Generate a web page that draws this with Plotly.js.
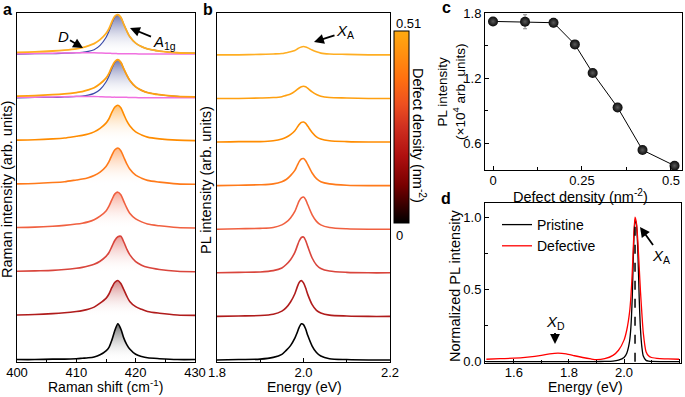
<!DOCTYPE html>
<html><head><meta charset="utf-8">
<script src="https://cdn.plot.ly/plotly-3.0.1.min.js"></script>
<style>html,body{margin:0;padding:0;background:#fff}#chart{width:685px;height:397px}</style>
</head><body><div id="chart"></div>
<script>
// ---------------- DATA ----------------
const densities = [0, 0.09, 0.17, 0.23, 0.28, 0.35, 0.42, 0.51];      // nm^-2
const plIntensity = [1.727, 1.724, 1.715, 1.514, 1.249, 0.93, 0.535, 0.39]; // x10^4 arb. units
const plIntensityErr = [0.03, 0.065, 0.04, 0.03, 0.03, 0.03, 0.02, 0.02];

// Panel a: Raman spectra (arb. units, one stack step = 1)
const ramanShift = [400, 403, 406, 408, 410, 411, 412, 413, 414, 415, 415.5, 416, 416.5, 417, 417.5, 418, 418.5, 419, 420, 421, 422, 424, 427, 430];
const ramanD000 = [0.01,0.01,0.02,0.02,0.03,0.04,0.05,0.07,0.12,0.21,0.29,0.46,0.68,0.83,0.71,0.50,0.35,0.25,0.13,0.08,0.05,0.03,0.01,0.01];
const ramanD009 = [0.03,0.04,0.06,0.08,0.11,0.13,0.16,0.21,0.30,0.41,0.51,0.66,0.78,0.82,0.75,0.61,0.46,0.34,0.22,0.16,0.11,0.07,0.03,0.02];
const ramanD017 = [0.03,0.04,0.05,0.07,0.10,0.12,0.15,0.19,0.26,0.37,0.46,0.60,0.74,0.82,0.83,0.70,0.54,0.41,0.25,0.17,0.12,0.07,0.03,0.02];
const ramanD023 = [0.03,0.04,0.06,0.08,0.11,0.13,0.16,0.21,0.29,0.41,0.52,0.67,0.80,0.84,0.78,0.63,0.48,0.36,0.23,0.16,0.11,0.07,0.03,0.02];
const ramanD028 = [0.03,0.04,0.06,0.08,0.12,0.14,0.17,0.22,0.30,0.43,0.54,0.69,0.81,0.85,0.79,0.64,0.49,0.37,0.23,0.16,0.11,0.07,0.03,0.02];
const ramanD035 = [0.03,0.04,0.06,0.08,0.12,0.14,0.17,0.22,0.30,0.42,0.52,0.67,0.79,0.83,0.77,0.62,0.47,0.36,0.22,0.15,0.10,0.06,0.03,0.02];
const ramanD042 = [0.04,0.05,0.07,0.09,0.12,0.14,0.18,0.23,0.32,0.45,0.56,0.71,0.83,0.87,0.81,0.66,0.52,0.40,0.25,0.17,0.12,0.07,0.03,0.02];
const ramanD051 = [0.04,0.05,0.07,0.09,0.12,0.15,0.19,0.24,0.33,0.47,0.58,0.74,0.87,0.90,0.84,0.68,0.53,0.40,0.25,0.17,0.12,0.07,0.03,0.02];
// fitted components of the two most defective samples
const a1gD042 = [0.00,0.01,0.01,0.02,0.03,0.04,0.06,0.10,0.19,0.36,0.50,0.67,0.81,0.87,0.81,0.66,0.52,0.40,0.25,0.17,0.12,0.07,0.03,0.02];
const a1gD051 = [0.00,0.01,0.01,0.02,0.03,0.04,0.06,0.10,0.20,0.38,0.52,0.70,0.85,0.90,0.84,0.68,0.53,0.40,0.25,0.17,0.12,0.07,0.03,0.02];
const dModeD042 = [0.01,0.015,0.02,0.025,0.03,0.03,0.03,0.03,0.025,0.02,0.02,0.015,0.015,0.01,0.01,0.01,0.01,0.005,0.005,0,0,0,0,0];
const dModeD051 = [0.01,0.015,0.02,0.025,0.03,0.03,0.03,0.03,0.025,0.02,0.02,0.015,0.015,0.01,0.01,0.01,0.01,0.005,0.005,0,0,0,0,0];

// Panel b: PL spectra
const plEnergy = [1.80, 1.85, 1.90, 1.93, 1.95, 1.96, 1.97, 1.98, 1.985, 1.99, 1.995, 2.00, 2.005, 2.01, 2.02, 2.03, 2.04, 2.06, 2.10, 2.15, 2.20];
const plD000 = [0,0.01,0.02,0.06,0.13,0.22,0.33,0.50,0.62,0.75,0.83,0.81,0.71,0.56,0.32,0.17,0.09,0.03,0.01,0,0];
const plD009 = [0,0.01,0.02,0.05,0.12,0.20,0.33,0.52,0.66,0.78,0.82,0.77,0.65,0.50,0.27,0.14,0.08,0.03,0.01,0,0];
const plD017 = [0,0.01,0.02,0.05,0.11,0.19,0.30,0.47,0.60,0.73,0.81,0.82,0.74,0.60,0.34,0.18,0.10,0.04,0.01,0,0];
const plD023 = [0,0.01,0.02,0.04,0.10,0.16,0.26,0.41,0.53,0.65,0.72,0.74,0.68,0.56,0.33,0.18,0.10,0.04,0.01,0,0];
const plD028 = [0,0.01,0.02,0.04,0.09,0.14,0.23,0.35,0.45,0.55,0.61,0.62,0.57,0.48,0.29,0.16,0.09,0.04,0.01,0,0];
const plD035 = [0,0.01,0.01,0.03,0.07,0.11,0.17,0.26,0.33,0.40,0.45,0.46,0.43,0.36,0.22,0.12,0.07,0.03,0.01,0,0];
const plD042 = [0,0,0.01,0.02,0.04,0.07,0.10,0.16,0.20,0.24,0.27,0.28,0.27,0.23,0.15,0.09,0.05,0.02,0.01,0,0];
const plD051 = [0,0,0.01,0.02,0.03,0.05,0.07,0.10,0.13,0.16,0.18,0.19,0.18,0.16,0.11,0.07,0.04,0.02,0.01,0,0];

// Panel d: normalized PL
const normEnergy = [1.50,1.55,1.60,1.65,1.70,1.73,1.76,1.79,1.82,1.85,1.88,1.90,1.93,1.96,1.98,2.00,2.01,2.02,2.025,2.03,2.035,2.04,2.045,2.05,2.055,2.06,2.065,2.07,2.08,2.09,2.10,2.13,2.16,2.20];
const normPristine = [0.002,0.002,0.002,0.002,0.002,0.002,0.002,0.002,0.002,0.002,0.002,0.002,0.003,0.005,0.012,0.03,0.06,0.14,0.24,0.45,0.80,0.98,0.95,0.78,0.45,0.22,0.10,0.04,0.01,0.005,0.003,0.002,0.002,0.002];
const normDefective = [0.018,0.022,0.025,0.033,0.045,0.055,0.060,0.055,0.042,0.030,0.020,0.015,0.022,0.045,0.08,0.15,0.22,0.34,0.45,0.62,0.85,1.0,0.96,0.84,0.66,0.48,0.33,0.20,0.07,0.04,0.03,0.022,0.02,0.018];
const xaPeakEnergy = 2.04;
const xaPeakLevel = 0.96;

const ramanSpectra = [ramanD000, ramanD009, ramanD017, ramanD023, ramanD028, ramanD035, ramanD042, ramanD051];
const plSpectra = [plD000, plD009, plD017, plD023, plD028, plD035, plD042, plD051];
const a1gComponents = {6: a1gD042, 7: a1gD051};
const dComponents = {6: dModeD042, 7: dModeD051};

// ---------------- STYLE ----------------
const W = 685, H = 397;
const dx = p => p / W, dy = p => 1 - p / H;
const FONT = 'Liberation Sans, Arial, Helvetica, sans-serif';
const TITLE = 14.5, TICK = 13;
const specColors = ['#000000', '#b01c1c', '#d9453c', '#f06040', '#ff7a1a', '#ff8c00', '#ffa010', '#ffae22'];
const fillColors = ['rgba(0,0,0,0.6)', 'rgba(176,28,28,0.55)', 'rgba(217,69,60,0.55)', 'rgba(240,96,64,0.55)', 'rgba(255,122,26,0.55)', 'rgba(255,140,0,0.55)', 'rgba(50,60,140,0.7)', 'rgba(50,60,140,0.7)'];
const densityScale = [[0,'#000000'],[0.2,'#7a0000'],[0.35,'#b01010'],[0.5,'#d03020'],[0.62,'#ee5020'],[0.75,'#ff7010'],[0.88,'#ff9010'],[1,'#ffaa10']];

const traces = [];
// Panel a
ramanSpectra.forEach((spec, i) => {
  traces.push({x: [ramanShift[0], ramanShift[ramanShift.length-1]], y: [i, i], xaxis:'x', yaxis:'y',
    mode:'lines', line:{width:0}, hoverinfo:'skip', showlegend:false});
  const comp = a1gComponents[i];
  if (comp) {
    traces.push({x: ramanShift, y: comp.map(v => v + i), xaxis:'x', yaxis:'y', mode:'lines',
      line:{color:'#3a4aa8', width:1.2, shape:'spline', smoothing:0.8}, fill:'tonexty',
      fillgradient:{type:'vertical', colorscale:[[0,'rgba(255,255,255,0)'],[1,fillColors[i]]]},
      hoverinfo:'skip', showlegend:false});
    traces.push({x: ramanShift, y: dComponents[i].map(v => v + i), xaxis:'x', yaxis:'y', mode:'lines',
      line:{color:'#f070e0', width:1.5, shape:'spline', smoothing:0.8}, hoverinfo:'skip', showlegend:false});
    traces.push({x: ramanShift, y: spec.map(v => v + i), xaxis:'x', yaxis:'y', mode:'lines',
      line:{color:specColors[i], width:1.8, shape:'spline', smoothing:0.8}, hoverinfo:'skip', showlegend:false});
  } else {
    traces.push({x: ramanShift, y: spec.map(v => v + i), xaxis:'x', yaxis:'y', mode:'lines',
      line:{color:specColors[i], width:1.6, shape:'spline', smoothing:0.8}, fill:'tonexty',
      fillgradient:{type:'vertical', colorscale:[[0,'rgba(255,255,255,0)'],[1,fillColors[i]]]},
      hoverinfo:'skip', showlegend:false});
  }
});
// Panel b
plSpectra.forEach((spec, i) => {
  traces.push({x: plEnergy, y: spec.map(v => v + i), xaxis:'x2', yaxis:'y2', mode:'lines',
    line:{color:specColors[i], width:1.6, shape:'spline', smoothing:0.8}, hoverinfo:'skip', showlegend:false});
});
// colour bar carrier (points lie outside the visible energy range)
traces.push({x: densities, y: densities, xaxis:'x2', yaxis:'y2', mode:'markers', hoverinfo:'skip', showlegend:false,
  marker:{color: densities, cmin:0, cmax:0.51, colorscale: densityScale, opacity:0, showscale:true,
    colorbar:{x: dx(394), xanchor:'left', y: dy(127), yanchor:'middle', len: 192/H, lenmode:'fraction',
      thickness:15, thicknessmode:'pixels', xpad:0, ypad:0, outlinewidth:1, outlinecolor:'#000',
      showticklabels:false, ticks:''}}});
// Panel c
traces.push({x: densities, y: plIntensity, xaxis:'x3', yaxis:'y3', mode:'lines+markers', showlegend:false,
  line:{color:'#000', width:1},
  marker:{size:10, color:'#0a0a0a', line:{width:0}, gradient:{type:'radial', color:'#5a5a5a'}},
  error_y:{type:'data', array: plIntensityErr, color:'#888', thickness:1, width:2}});
// Panel d
traces.push({x: normEnergy, y: normPristine, xaxis:'x4', yaxis:'y4', mode:'lines', name:'Pristine',
  line:{color:'#000', width:1.3, shape:'spline', smoothing:0.6}});
traces.push({x: normEnergy, y: normDefective, xaxis:'x4', yaxis:'y4', mode:'lines', name:'Defective',
  line:{color:'#ff0000', width:1.3, shape:'spline', smoothing:0.6}});
traces.push({x: [xaPeakEnergy, xaPeakEnergy], y: [0, xaPeakLevel], xaxis:'x4', yaxis:'y4', mode:'lines',
  line:{color:'#000', width:1.5, dash:'dash'}, showlegend:false, hoverinfo:'skip'});

const axBase = {showline:true, mirror:true, linecolor:'#000', linewidth:1, showgrid:false, zeroline:false,
  ticks:'inside', ticklen:4, tickcolor:'#000', tickfont:{size:TICK, color:'#000'}, fixedrange:true};
const xBottom = Object.assign({}, axBase, {ticklabelstandoff:-2});
const yHidden = Object.assign({}, axBase, {showticklabels:false, ticks:''});

const layout = {
  width: W, height: H, margin:{l:0, r:0, t:0, b:0}, paper_bgcolor:'#fff', plot_bgcolor:'#fff',
  font:{family: FONT, size:13, color:'#000'},
  showlegend:true,
  legend:{x: dx(497), y: dy(209), xanchor:'left', yanchor:'top', bgcolor:'rgba(0,0,0,0)', font:{size:14},
    traceorder:'normal', tracegroupgap:0, itemwidth:30},
  xaxis: Object.assign({}, xBottom, {domain:[dx(17), dx(195)], range:[400,430], anchor:'y', tickvals:[400,410,420,430],
    minor:{tickvals:[405,415,425], ticks:'inside', ticklen:3, tickcolor:'#000'}}),
  yaxis: Object.assign({}, yHidden, {domain:[dy(362), dy(13)], range:[-0.046, 7.94], anchor:'x'}),
  xaxis2: Object.assign({}, xBottom, {domain:[dx(217), dx(390)], range:[1.8,2.2], anchor:'y2', tickvals:[1.8,2.0,2.2],
    tickformat:'.1f', minor:{tickvals:[1.9,2.1], ticks:'inside', ticklen:3, tickcolor:'#000'}}),
  yaxis2: Object.assign({}, yHidden, {domain:[dy(362), dy(13)], range:[-0.046, 7.96], anchor:'x2'}),
  xaxis3: Object.assign({}, xBottom, {domain:[dx(485), dx(682)], range:[-0.0225, 0.531], anchor:'y3', tickvals:[0,0.25,0.5],
    ticktext:['0','0.25','0.5'], minor:{tickvals:[0.125,0.375], ticks:'inside', ticklen:3, tickcolor:'#000'}}),
  yaxis3: Object.assign({}, axBase, {domain:[dy(170), dy(13)], range:[0.35, 1.805], anchor:'x3', tickvals:[0.6,1.2,1.8],
    tickformat:'.1f', minor:{tickvals:[0.9,1.5], ticks:'inside', ticklen:3, tickcolor:'#000'}}),
  xaxis4: Object.assign({}, xBottom, {domain:[dx(485), dx(681)], range:[1.495, 2.207], anchor:'y4', tickvals:[1.6,1.8,2.0,2.2],
    ticklabelstandoff:-3, tickformat:'.1f', minor:{tickvals:[1.7,1.9,2.1], ticks:'inside', ticklen:3, tickcolor:'#000'}}),
  yaxis4: Object.assign({}, axBase, {domain:[dy(363), dy(203)], range:[-0.008, 1.097], anchor:'x4', tickvals:[0,0.5,1.0],
    tickformat:'.1f', minor:{tickvals:[0.25,0.75], ticks:'inside', ticklen:3, tickcolor:'#000'}}),
  annotations: []
};

const txt = (text, px, py, opts) => Object.assign({text, x: dx(px), y: dy(py), xref:'paper', yref:'paper',
  showarrow:false, xanchor:'center', yanchor:'middle', font:{size:TITLE, color:'#000'}}, opts || {});
// label with an arrow: head at (hx,hy), label centred at (tx,ty)
const arrowLabel = (text, hx, hy, tx, ty) => ({text, x: dx(hx), y: dy(hy), xref:'paper', yref:'paper', showarrow:true,
  ax: tx - hx, ay: ty - hy, arrowhead:2, arrowsize:1.1, arrowwidth:1.8, arrowcolor:'#000', standoff:0,
  font:{size:15, color:'#000'}});

layout.annotations.push(
  txt('<b>a</b>', 7, 9, {font:{size:16}}),
  txt('<b>b</b>', 208, 9, {font:{size:16}}),
  txt('<b>c</b>', 446, 8, {font:{size:16}}),
  txt('<b>d</b>', 446, 198, {font:{size:16}}),
  txt('Raman shift (cm<sup>-1</sup>)', 105, 397, {yanchor:'bottom', font:{size:14}}),
  txt('Raman intensity (arb. units)', 7, 190, {textangle:-90}),
  txt('Energy (eV)', 304, 397, {yanchor:'bottom', font:{size:14}}),
  txt('PL intensity (arb. units)', 206, 180, {textangle:-90}),
  txt('Defect density (nm<sup>-2</sup>)', 580, 196),
  txt('PL intensity<br>(×10<sup>4</sup> arb. units)', 451, 92, {textangle:-90, font:{size:13.5}}),
  txt('Energy (eV)', 585, 397, {yanchor:'bottom', font:{size:14}}),
  txt('Normalized PL intensity', 455, 286, {textangle:-90}),
  txt('0.51', 394, 23, {xanchor:'left', font:{size:TICK}}),
  txt('0', 394, 235, {xanchor:'left', font:{size:TICK}}),
  txt('Defect density (nm<sup>-2</sup>)', 419, 135, {textangle:90}),
  arrowLabel('<i>D</i>', 83, 48, 63, 36),
  arrowLabel('<i>A</i><sub>1g</sub>', 130, 28, 164, 42),
  arrowLabel('<i>X</i><sub>A</sub>', 314, 42, 345, 32),
  arrowLabel('<i>X</i><sub>A</sub>', 640, 227, 661, 256),
  arrowLabel('<i>X</i><sub>D</sub>', 555, 344, 555, 322)
);

Plotly.newPlot('chart', traces, layout, {displayModeBar:false, staticPlot:true});
</script></body></html>
